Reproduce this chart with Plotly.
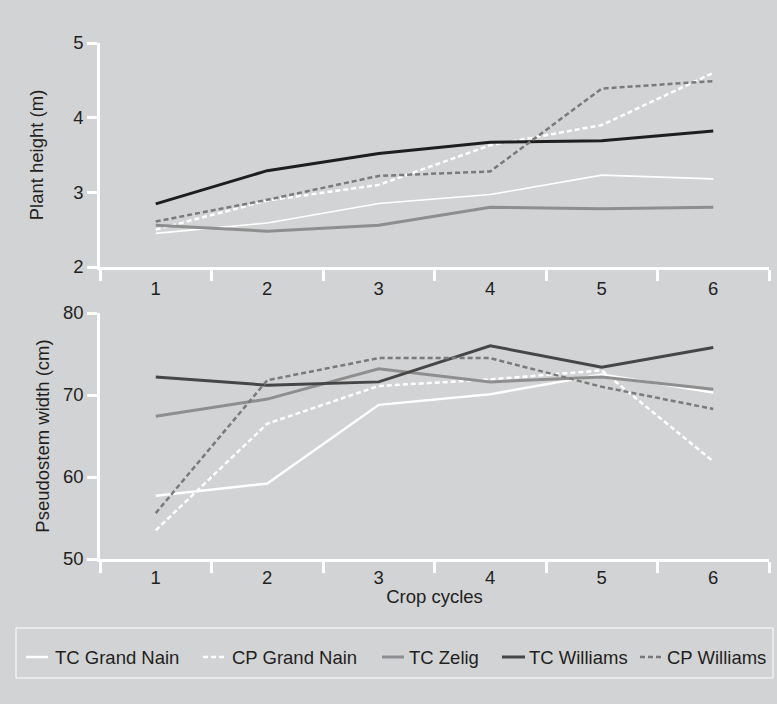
import plotly.graph_objects as go

cycles = [1, 2, 3, 4, 5, 6]
tick_labels = ["1", "2", "3", "4", "5", "6"]

series_names = ["TC Grand Nain", "CP Grand Nain", "TC Zelig", "TC Williams", "CP Williams"]

height_tc_grand_nain = [2.45, 2.59, 2.85, 2.97, 3.23, 3.18]
height_cp_grand_nain = [2.50, 2.89, 3.10, 3.63, 3.90, 4.60]
height_tc_zelig = [2.56, 2.48, 2.56, 2.80, 2.78, 2.80]
height_tc_williams = [2.845, 3.29, 3.52, 3.67, 3.69, 3.82]
height_cp_williams = [2.61, 2.90, 3.22, 3.28, 4.39, 4.49]

width_tc_grand_nain = [57.7, 59.2, 68.8, 70.1, 72.5, 70.3]
width_cp_grand_nain = [53.5, 66.5, 71.1, 71.9, 73.0, 61.9]
width_tc_zelig = [67.4, 69.5, 73.2, 71.6, 72.2, 70.7]
width_tc_williams = [72.2, 71.2, 71.6, 76.0, 73.4, 75.8]
width_cp_williams = [55.6, 71.8, 74.5, 74.5, 71.0, 68.3]

TXT = "#231f20"
BG = "#d2d3d5"
FONT = "Liberation Sans"
FS = 18.5

styles = {
    "TC Grand Nain": dict(color="white", width=2.5, dash="solid"),
    "CP Grand Nain": dict(color="white", width=2.5, dash="5px,3px"),
    "TC Zelig": dict(color="#8e8e8e", width=3, dash="solid"),
    "TC Williams": dict(color="#464646", width=3, dash="solid"),
    "CP Williams": dict(color="#7a7a7a", width=2.5, dash="5px,3px"),
}

top = [height_tc_grand_nain, height_cp_grand_nain, height_tc_zelig, height_tc_williams, height_cp_williams]
bottom = [width_tc_grand_nain, width_cp_grand_nain, width_tc_zelig, width_tc_williams, width_cp_williams]

# plot-area geometry in pixels (for the hand-drawn legend box)
L, R, T, B = 100, 769, 43, 559
def px_x(p):
    return (p - L) / (R - L)
def px_y(p):
    return (B - p) / (B - T)

fig = go.Figure()
for name, ys in zip(series_names, top):
    st = dict(styles[name])
    if name == "TC Williams":
        st["color"] = "#1e1e1e"
    if name == "TC Grand Nain":
        st["width"] = 1.6
    fig.add_trace(go.Scatter(x=cycles, y=ys, mode="lines", name=name, line=st,
                             xaxis="x", yaxis="y", showlegend=False))
for name, ys in zip(series_names, bottom):
    fig.add_trace(go.Scatter(x=cycles, y=ys, mode="lines", name=name, line=styles[name],
                             xaxis="x2", yaxis="y2", showlegend=False))

xcommon = dict(
    range=[0.5, 6.5], tickmode="array", tickvals=cycles, ticktext=tick_labels,
    ticks="", showgrid=False, zeroline=False, showline=True, linecolor="white",
    linewidth=2.5, tickfont=dict(size=FS, color=TXT, family=FONT),
    minor=dict(tickmode="array", tickvals=[0.5, 1.5, 2.5, 3.5, 4.5, 5.5, 6.5],
               ticks="outside", ticklen=11, tickwidth=2.5, tickcolor="white"),
)
ycommon = dict(
    showgrid=False, zeroline=False, showline=True, linecolor="white", linewidth=2.5,
    ticks="outside", ticklen=10, tickwidth=2.5, tickcolor="white",
    tickfont=dict(size=FS, color=TXT, family=FONT),
)

# hand-drawn legend (symbol start/end and text start, in pixels)
legend_items = [
    (26, 48, 55),
    (203, 224, 232),
    (382, 404, 409),
    (502, 525, 529),
    (640, 661, 667),
]
LEG_Y = 657

shapes = [dict(type="rect", xref="paper", yref="paper",
               x0=px_x(16), x1=px_x(773), y0=px_y(678), y1=px_y(628),
               line=dict(color="white", width=1), fillcolor="rgba(0,0,0,0)")]
annotations = []
for name, (s0, s1, t0) in zip(series_names, legend_items):
    st = styles[name]
    shapes.append(dict(type="line", xref="paper", yref="paper",
                       x0=px_x(s0), x1=px_x(s1), y0=px_y(LEG_Y), y1=px_y(LEG_Y),
                       line=dict(color=st["color"], width=st["width"], dash=st["dash"])))
    annotations.append(dict(text=name, xref="paper", yref="paper", x=px_x(t0 - 2), y=px_y(LEG_Y),
                            xanchor="left", yanchor="middle", showarrow=False,
                            font=dict(size=FS, color=TXT, family=FONT)))

fig.update_layout(
    width=777, height=704,
    paper_bgcolor=BG, plot_bgcolor=BG,
    font=dict(family=FONT, color=TXT, size=FS),
    margin=dict(l=L, r=777 - R, t=T, b=704 - B),
    showlegend=False,
    xaxis=dict(xcommon, domain=[0, 1], anchor="y", ticklabelstandoff=3),
    yaxis=dict(ycommon, domain=[px_y(267), 1], range=[2, 5], tickvals=[2, 3, 4, 5],
               title=dict(text="Plant height (m)", font=dict(size=FS, color=TXT, family=FONT), standoff=25)),
    xaxis2=dict(xcommon, domain=[0, 1], anchor="y2",
                title=dict(text="Crop cycles", font=dict(size=FS, color=TXT, family=FONT), standoff=4)),
    yaxis2=dict(ycommon, domain=[0, px_y(313)], range=[50, 80], tickvals=[50, 60, 70, 80],
                title=dict(text="Pseudostem width (cm)", font=dict(size=FS, color=TXT, family=FONT), standoff=9)),
    shapes=shapes,
    annotations=annotations,
)

fig.write_html("out.html", config={"displayModeBar": False},
               post_script="document.body.style.margin='0';document.body.style.background='%s';" % BG)
